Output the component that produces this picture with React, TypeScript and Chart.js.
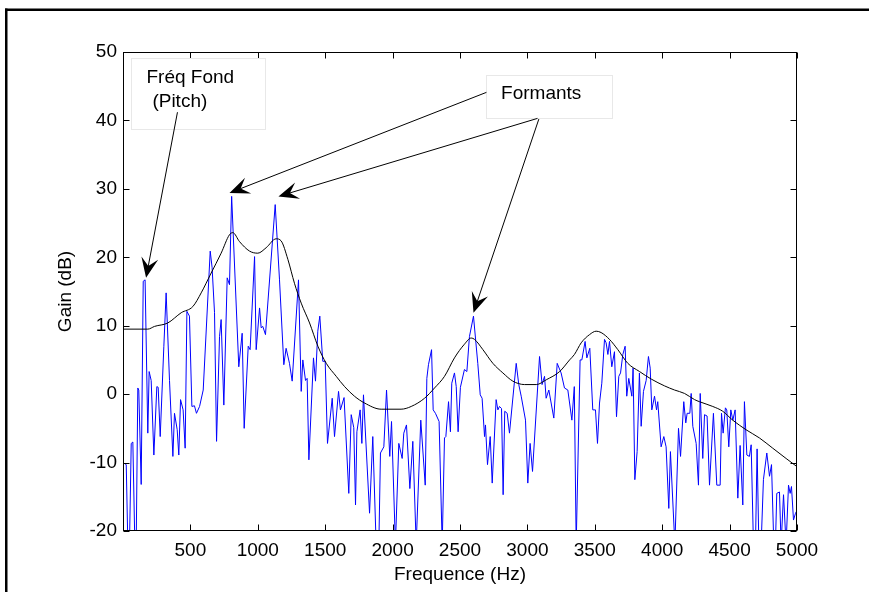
import React, { useEffect, useRef } from "react";
import { Chart, registerables } from "chart.js";

Chart.register(...registerables);

// ---- spectrum (blue) ----
const freqHz = [
  0, 24, 36, 48, 61, 73, 88, 98, 110, 117, 135, 150, 164, 184, 194, 209, 229, 251, 261, 276,
  303, 320, 345, 370, 382, 402, 414, 427, 446, 461, 474, 493, 511, 530, 545, 568, 595, 647, 661, 679,
  694, 716, 728, 748, 773, 790, 806, 859, 884, 899, 929, 943, 976, 988, 1013, 1025, 1037, 1057, 1129, 1161,
  1193, 1210, 1235, 1255, 1302, 1322, 1334, 1354, 1366, 1379, 1413, 1428, 1445, 1460, 1482, 1500, 1517, 1552, 1569, 1599,
  1613, 1640, 1675, 1693, 1712, 1725, 1735, 1759, 1772, 1784, 1829, 1853, 1878, 1898, 1910, 1935, 1955, 1979, 1992, 2021,
  2046, 2071, 2083, 2103, 2128, 2150, 2175, 2209, 2242, 2254, 2266, 2289, 2301, 2318, 2345, 2368, 2385, 2395, 2415, 2429,
  2439, 2459, 2472, 2486, 2503, 2533, 2551, 2570, 2600, 2632, 2650, 2664, 2682, 2689, 2704, 2724, 2739, 2768, 2781, 2793,
  2808, 2820, 2832, 2850, 2867, 2917, 2936, 2954, 2986, 3003, 3020, 3038, 3090, 3109, 3127, 3139, 3159, 3196, 3221, 3250,
  3275, 3300, 3330, 3348, 3362, 3391, 3404, 3428, 3441, 3463, 3485, 3505, 3520, 3535, 3552, 3572, 3584, 3597, 3609, 3626,
  3646, 3661, 3678, 3691, 3708, 3725, 3737, 3752, 3775, 3784, 3797, 3814, 3831, 3844, 3861, 3881, 3898, 3911, 3923, 3943,
  3958, 3967, 3992, 4012, 4029, 4049, 4061, 4094, 4121, 4136, 4160, 4175, 4185, 4205, 4215, 4227, 4252, 4269, 4282, 4301,
  4314, 4333, 4351, 4380, 4405, 4430, 4440, 4452, 4469, 4479, 4494, 4509, 4524, 4541, 4561, 4578, 4598, 4610, 4628, 4647,
  4660, 4677, 4692, 4704, 4717, 4734, 4751, 4776, 4796, 4811, 4828, 4840, 4850, 4870, 4882, 4900, 4919, 4937, 4949, 4959,
  4974, 4989, 5000,
];
const gainDb = [
  -10, -10.3, -22, -22, -7.2, -7.0, -22, -22, 0.9, 0.6, -13.2, 16.5, 16.7, -5.7, 3.3, 2.0, -8.9, 1.1, 1.0, -6.2,
  7, 14.8, 2, -9.1, -2.8, -5.2, -8.9, -0.8, -2.3, -7.9, 12.1, 11.4, -1.8, -1.7, -2.8, -1.8, 0.6, 20.9, 18.5, 11.9,
  -6.9, 8.4, 10.9, -1.6, 17, 16, 28.9, 4, 8.9, -5, 7, 6.5, 20.1, 6.5, 12.6, 9.7, 9.9, 8.7, 27.7, 16.7,
  4.3, 6.7, 4.5, 1.9, 16.7, 0.4, 5, 2, 2.3, -9.6, 5.3, 1.9, 9.2, 11.4, 4.8, 4.8, -7.2, -0.6, -6.2, 0.4,
  -2.3, -0.5, -14.5, -3, -4.9, -16.2, -5.5, -2.3, -7.2, -0.1, -17.4, -6.2, -22, -22, -8.6, -7.7, 0.6, -9.1, -4, -22,
  -7.2, -9.4, -5.7, -4.5, -13.8, -6.9, -22, -3.8, -13.3, 2.3, 4.3, 6.5, -2.3, -2.8, -4, -22, -6.4, -6.2, -1.1, -5.5,
  1.6, 3.1, 1.1, -5.5, 1, 3.6, 3.3, 8.4, 11.4, 4.5, -0.1, -0.6, -6.2, -4.5, -10.3, -6.2, -13, -0.8, -2.3, -1.8,
  -2.1, -14.7, -2.5, -2.8, -5.7, 4.5, 1.4, -0.3, -3.8, -13, -7.2, -11.3, 5.5, 1.4, 2.6, -0.6, 0.6, -3.5, 4.5, 3.1,
  0.9, 0.6, -3.8, 1.1, -22, 5, 5, 7.7, 5.3, 6.7, -2.3, -2.3, -7.2, -1.3, 1.6, 8, 7.5, 5.8, 7.7, 4,
  6.2, -3.3, 2.6, 3.1, 5.8, 7, -0.3, 2.3, -0.3, 3.8, -12.5, -8.4, 3.1, -4.7, 0.4, 2, 5.5, 3.8, -2.3, -0.3,
  -2.3, -1.1, -7.7, -6.2, -7.7, -16.7, -8.4, -22, -5, -9.1, -1.1, -4.2, -2.8, -2.8, 0.1, -4.7, -7.2, -13.3, 0.1, -9.4,
  -3, -3.2, -13.3, -2.8, -13.3, -13.3, -2.8, -5.7, -2, -2.3, -7.7, -2.3, -3.8, -2.3, -15.2, -7.5, -16.2, -1.1, -8.9, -9.1,
  -7.4, -22, -22, -8, -22, -22, -12.5, -8.6, -12, -10.3, -22, -22, -14.5, -14.3, -22, -14.7, -22, -13.3, -14.5, -13.5,
  -18.4, -17.4, -17,
];

// ---- smooth envelope (black) ----
const envFreqHz = [
  0, 184, 234, 332, 432, 518, 580, 654, 728, 790, 815, 864, 939, 1000, 1062, 1136, 1173, 1223, 1272, 1322,
  1384, 1446, 1508, 1582, 1644, 1717, 1792, 1915, 2063, 2138, 2237, 2311, 2385, 2459, 2533, 2583, 2608, 2670, 2744, 2818,
  2892, 2979, 3066, 3140, 3239, 3313, 3349, 3399, 3461, 3510, 3547, 3609, 3671, 3745, 3832, 3919, 4018, 4092, 4166, 4240,
  4276, 4375, 4449, 4523, 4622, 4721, 4820, 4919, 5000,
];
const envDb = [
  9.5, 9.5, 9.9, 10.4, 11.9, 12.8, 14.8, 17.7, 20.6, 23.3, 23.6, 22.3, 20.9, 20.6, 21.4, 22.7, 22.4, 19.7, 16.2, 13.3,
  10.4, 7, 4.5, 2.6, 1.1, -0.3, -1.3, -2.2, -2.2, -1.8, -0.6, 0.9, 2.6, 5.3, 7.3, 8.2, 8.0, 6.5, 4.5, 3.1,
  1.9, 1.4, 1.4, 2.1, 3.3, 5, 5.8, 7.5, 8.7, 9.2, 9.0, 8, 6.5, 4.5, 3.3, 2.2, 1.2, 0.6, 0.1, -0.8,
  -1.1, -1.8, -2.5, -3.8, -5.2, -6.4, -7.9, -9.4, -10.6,
];

// ---- axes ----
const xTicks = [500, 1000, 1500, 2000, 2500, 3000, 3500, 4000, 4500, 5000];
const yTicks = [-20, -10, 0, 10, 20, 30, 40, 50];
const xRange = [0, 5000];
const yRange = [-20, 50];
const xTitle = "Frequence (Hz)";
const yTitle = "Gain (dB)";

// ---- annotations (data coordinates: Hz, dB) ----
const pitchLines = ["Fréq Fond", "(Pitch)"];
const pitchBox = [63, 49.1, 1057, 38.8];
const pitchTextPos = [[174, 45.5], [218, 41.9]];
const formantLabel = "Formants";
const formantBox = [2696, 46.7, 3631, 40.4];
const formantTextPos = [2805, 43.2];
const arrows = [
  [404, 41.2, 171, 17.0],
  [2696, 44.1, 790, 29.4],
  [3075, 40.3, 1153, 28.9],
  [3085, 40.2, 2600, 11.9],
];

const FONT = "'Liberation Sans', Arial, Helvetica, sans-serif";

function drawArrow(ctx: CanvasRenderingContext2D, x0: number, y0: number, x1: number, y1: number) {
  const dx = x1 - x0;
  const dy = y1 - y0;
  const len = Math.hypot(dx, dy);
  const ux = dx / len;
  const uy = dy / len;
  const px = -uy;
  const py = ux;
  const L = 20;
  const W = 8.5;
  const N = 12;
  ctx.beginPath();
  ctx.moveTo(x0, y0);
  ctx.lineTo(x1 - ux * N, y1 - uy * N);
  ctx.stroke();
  ctx.beginPath();
  ctx.moveTo(x1, y1);
  ctx.lineTo(x1 - ux * L + px * W, y1 - uy * L + py * W);
  ctx.lineTo(x1 - ux * N, y1 - uy * N);
  ctx.lineTo(x1 - ux * L - px * W, y1 - uy * L - py * W);
  ctx.closePath();
  ctx.fill();
}

const decorPlugin = {
  id: "decor",
  afterDatasetsDraw(chart: any) {
    const { ctx, chartArea: a, scales } = chart;
    const xs = scales.x;
    const ys = scales.y;
    const X = (v: number) => xs.getPixelForValue(v);
    const Y = (v: number) => ys.getPixelForValue(v);
    ctx.save();
    // axes box
    ctx.strokeStyle = "#000";
    ctx.lineWidth = 1;
    const l = Math.round(a.left) + 0.5;
    const r = Math.round(a.right) - 0.5;
    const t = Math.round(a.top) + 0.5;
    const b = Math.round(a.bottom) - 0.5;
    ctx.strokeRect(l, t, r - l, b - t);
    // inward ticks on all four sides
    const tl = 6;
    ctx.beginPath();
    for (const v of xTicks) {
      const px = Math.round(X(v)) + 0.5;
      ctx.moveTo(px, b); ctx.lineTo(px, b - tl);
      ctx.moveTo(px, t); ctx.lineTo(px, t + tl);
    }
    for (const v of yTicks) {
      const py = Math.round(Y(v)) + 0.5;
      ctx.moveTo(l, py); ctx.lineTo(l + tl, py);
      ctx.moveTo(r, py); ctx.lineTo(r - tl, py);
    }
    ctx.stroke();

    // text boxes
    const box = (bx: number[]) => {
      const x0 = Math.round(X(bx[0])) + 0.5;
      const y0 = Math.round(Y(bx[1])) + 0.5;
      const x1 = Math.round(X(bx[2])) + 0.5;
      const y1 = Math.round(Y(bx[3])) + 0.5;
      ctx.fillStyle = "#fff";
      ctx.fillRect(x0, y0, x1 - x0, y1 - y0);
      ctx.strokeStyle = "#e8e8e8";
      ctx.strokeRect(x0, y0, x1 - x0, y1 - y0);
    };
    box(pitchBox);
    box(formantBox);
    ctx.fillStyle = "#000";
    ctx.font = `19px ${FONT}`;
    ctx.textAlign = "left";
    ctx.textBaseline = "alphabetic";
    pitchLines.forEach((s, i) => {
      ctx.fillText(s, X(pitchTextPos[i][0]), Y(pitchTextPos[i][1]));
    });
    ctx.fillText(formantLabel, X(formantTextPos[0]), Y(formantTextPos[1]));

    // arrows
    ctx.strokeStyle = "#000";
    ctx.fillStyle = "#000";
    ctx.lineWidth = 1;
    for (const ar of arrows) {
      drawArrow(ctx, X(ar[0]), Y(ar[1]), X(ar[2]), Y(ar[3]));
    }

    // outer figure frame
    ctx.fillStyle = "#000";
    ctx.fillRect(5, 8.5, 869, 2.5);
    ctx.fillRect(5, 8.5, 2.5, 600);
    ctx.restore();
  },
};

export default function App() {
  const ref = useRef<HTMLCanvasElement | null>(null);
  useEffect(() => {
    document.body.style.margin = "0";
    const canvas = ref.current;
    if (!canvas) return;
    const chart = new Chart(canvas, {
      type: "line",
      data: {
        datasets: [
          {
            label: "envelope",
            data: envFreqHz.map((f, i) => ({ x: f, y: envDb[i] })),
            borderColor: "#000000",
            borderWidth: 1,
            pointRadius: 0,
            cubicInterpolationMode: "monotone",
            fill: false,
            clip: 0,
          },
          {
            label: "spectrum",
            data: freqHz.map((f, i) => ({ x: f, y: gainDb[i] })),
            borderColor: "#0000ff",
            borderWidth: 1,
            pointRadius: 0,
            tension: 0,
            fill: false,
            clip: 0,
          },
        ],
      },
      options: {
        responsive: false,
        animation: false,
        devicePixelRatio: 1,
        layout: { padding: { left: 0, top: 52, right: 72, bottom: 0 } },
        plugins: { legend: { display: false }, tooltip: { enabled: false } },
        scales: {
          x: {
            type: "linear",
            min: xRange[0],
            max: xRange[1],
            afterBuildTicks: (s: any) => { s.ticks = xTicks.map((v) => ({ value: v })); },
            afterFit: (s: any) => { s.height = 61; },
            grid: { display: false, drawTicks: false },
            border: { display: false },
            ticks: { color: "#000", padding: 8, maxRotation: 0, font: { family: FONT, size: 19 }, callback: (v: any) => String(v) },
            title: { display: true, text: xTitle, color: "#000", font: { family: FONT, size: 19 }, padding: { top: 0, bottom: 6 } },
          },
          y: {
            type: "linear",
            min: yRange[0],
            max: yRange[1],
            afterBuildTicks: (s: any) => { s.ticks = yTicks.map((v) => ({ value: v })); },
            afterFit: (s: any) => { s.width = 123; },
            grid: { display: false, drawTicks: false },
            border: { display: false },
            ticks: { color: "#000", padding: 6, font: { family: FONT, size: 19 }, callback: (v: any) => String(v) },
            title: { display: true, text: yTitle, color: "#000", font: { family: FONT, size: 19 }, padding: { top: 54, bottom: 0 } },
          },
        },
      },
      plugins: [decorPlugin],
    } as any);
    return () => chart.destroy();
  }, []);
  return (
    <div style={{ position: "fixed", left: 0, top: 0, width: 869, height: 592, background: "#fff" }}>
      <canvas ref={ref} width={869} height={592} style={{ width: 869, height: 592, display: "block" }} />
    </div>
  );
}
